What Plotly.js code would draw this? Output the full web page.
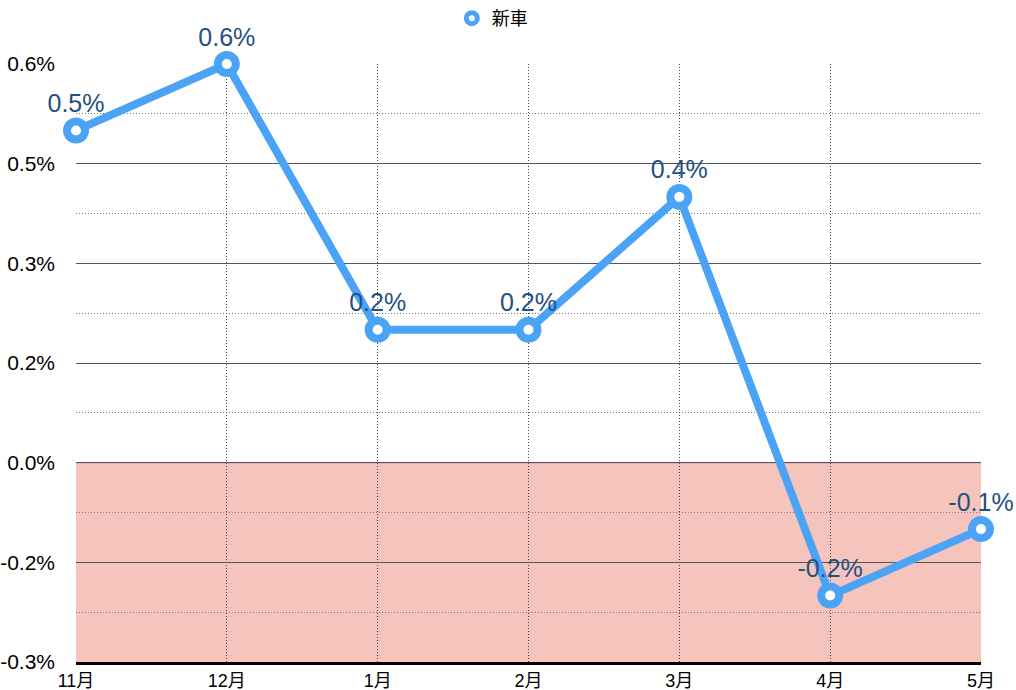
<!DOCTYPE html>
<html><head><meta charset="utf-8">
<script src="https://cdn.plot.ly/plotly-3.0.1.min.js"></script>
<style>html,body{margin:0;padding:0;background:#fff}#c{width:1016px;height:690px}</style>
</head><body><div id="c"></div>
<script>
const categories = ['11月','12月','1月','2月','3月','4月','5月'];
const seriesName = '新車';
const values = [0.5, 0.6, 0.2, 0.2, 0.4, -0.2, -0.1];
const yTickVals = [-0.3, -0.15, 0, 0.15, 0.3, 0.45, 0.6];
const yTickText = ['-0.3%', '-0.2%', '0.0%', '0.2%', '0.3%', '0.5%', '0.6%'];

const font = '"Liberation Sans", "Noto Sans CJK JP", sans-serif';
const blue = '#4ba3f5';
const trace = {
  x: categories, y: values, name: seriesName, type: 'scatter', mode: 'lines+markers+text',
  text: values.map(v => v.toFixed(1) + '%'), textposition: 'top center',
  textfont: {family: font, size: 25, color: '#24507f'},
  line: {color: blue, width: 8},
  marker: {size: 18, color: '#ffffff', line: {color: blue, width: 8}},
  cliponaxis: false, showlegend: false
};
const legendTrace = {
  x: [null], y: [null], name: seriesName, type: 'scatter', mode: 'markers',
  marker: {size: 11, color: '#ffffff', line: {color: blue, width: 5}}, showlegend: true
};
const layout = {
  width: 1016, height: 690,
  margin: {l: 76, r: 35, t: 64, b: 28, autoexpand: false},
  paper_bgcolor: '#fff', plot_bgcolor: '#fff',
  font: {family: font, size: 21, color: '#000'},
  showlegend: true,
  legend: {orientation: 'h', x: 0.46, xanchor: 'center', yref: 'container', y: 1, yanchor: 'top',
    font: {size: 18, family: '"Noto Sans CJK JP", sans-serif'}, itemwidth: 30},
  xaxis: {type: 'category', range: [0, 6], showgrid: true, griddash: '1px,2px', gridcolor: '#444', gridwidth: 1,
    ticks: '', tickfont: {size: 18}, showline: true, linecolor: '#000', linewidth: 3, zeroline: false, fixedrange: true},
  yaxis: {range: [-0.3, 0.6], tickvals: yTickVals, ticktext: yTickText, showgrid: true, gridcolor: '#555', gridwidth: 1,
    zeroline: false, ticks: '', tickfont: {size: 21}, showline: false, ticklabelstandoff: 20,
    minor: {tick0: 0, dtick: 0.075, showgrid: true, gridcolor: '#777', griddash: '1px,2px', gridwidth: 1}},
  shapes: [
    {type: 'rect', xref: 'paper', yref: 'y', x0: 0, x1: 1, y0: -0.3, y1: 0, fillcolor: '#f5c4bc', line: {width: 0}, layer: 'below'},
    {type: 'line', xref: 'paper', yref: 'y', x0: 0, x1: 1, y0: 0, y1: 0, line: {color: '#a0605a', width: 1}, layer: 'below'}
  ]
};
Plotly.newPlot('c', [trace, legendTrace], layout, {displayModeBar: false, staticPlot: true});
</script></body></html>
